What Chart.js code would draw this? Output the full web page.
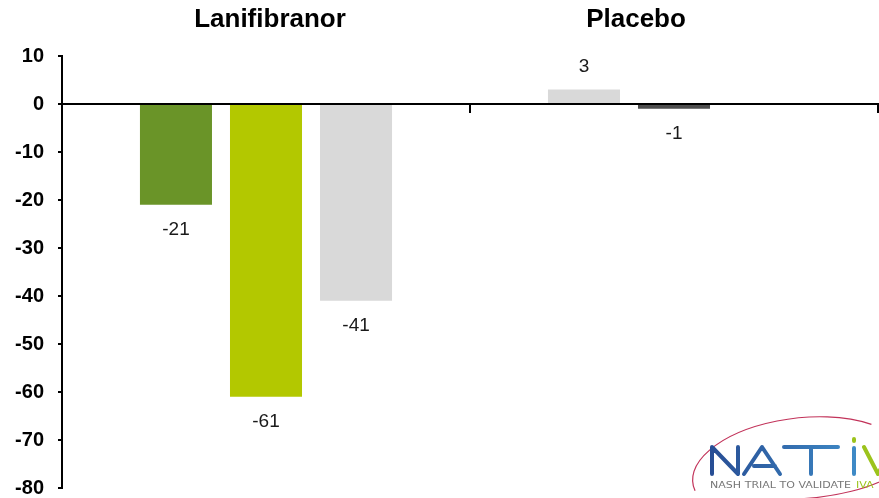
<!DOCTYPE html>
<html>
<head>
<meta charset="utf-8">
<script src="https://cdn.jsdelivr.net/npm/chart.js@4"></script>
<style>
  html, body { margin: 0; padding: 0; background: #fff; }
  #wrap { width: 879px; height: 498px; position: relative; }
</style>
</head>
<body>
<div id="wrap"><canvas id="resultsChart"></canvas></div>
<script>
const groups = ['Lanifibranor', 'Placebo'];
const slot1 = [-21, 3];
const slot2 = [-61, -1];
const slot3 = [-41, null];
const yTicks = [10, 0, -10, -20, -30, -40, -50, -60, -70, -80];

const slot1Colours = ['#6a9428', '#d9d9d9'];
const slot2Colours = ['#b3c800', '#4d4d4d'];
const slot3Colours = ['#d9d9d9', '#d9d9d9'];

// value labels under / over each bar
const valueLabels = {
  id: 'valueLabels',
  afterDatasetsDraw(chart) {
    const ctx = chart.ctx;
    ctx.save();
    ctx.font = '19px Arial, "Liberation Sans", sans-serif';
    ctx.fillStyle = '#1a1a1a';
    ctx.textAlign = 'center';
    ctx.textBaseline = 'middle';
    chart.data.datasets.forEach((ds, i) => {
      chart.getDatasetMeta(i).data.forEach((bar, j) => {
        const v = ds.data[j];
        if (v === null || v === undefined) return;
        const y = v < 0 ? bar.y + 25 : bar.y - 23;
        ctx.fillText(String(v), bar.x, y);
      });
    });
    ctx.restore();
  }
};

// group titles above the plot
const groupTitles = {
  id: 'groupTitles',
  afterDraw(chart) {
    const ctx = chart.ctx;
    const x = chart.scales.x;
    const shift = [4, -38];
    ctx.save();
    ctx.font = 'bold 26px Arial, "Liberation Sans", sans-serif';
    ctx.fillStyle = '#000';
    ctx.textAlign = 'center';
    ctx.textBaseline = 'alphabetic';
    groups.forEach((g, i) => {
      ctx.fillText(g, x.getPixelForValue(i) + shift[i], 27);
    });
    ctx.restore();
  }
};

// NATiV logo in the corner
const logo = {
  id: 'logo',
  afterDraw(chart) {
    const ctx = chart.ctx;
    ctx.save();
    ctx.strokeStyle = '#c2335a';
    ctx.lineWidth = 1.2;
    ctx.beginPath();
    ctx.ellipse(800, 470, 108, 52, -0.12, Math.PI * 0.95, Math.PI * 1.75);
    ctx.stroke();
    ctx.beginPath();
    ctx.ellipse(810, 462, 100, 36, -0.1, Math.PI * 0.2, Math.PI * 0.55);
    ctx.stroke();

    const grad = ctx.createLinearGradient(710, 0, 860, 0);
    grad.addColorStop(0, '#274d94');
    grad.addColorStop(1, '#3f8cc8');
    ctx.strokeStyle = grad;
    ctx.lineWidth = 4;
    ctx.lineJoin = 'round';
    ctx.lineCap = 'round';
    ctx.beginPath();
    // N
    ctx.moveTo(712, 474); ctx.lineTo(712, 447); ctx.lineTo(738, 474); ctx.lineTo(738, 447);
    // A
    ctx.moveTo(744, 474); ctx.lineTo(762, 447); ctx.lineTo(780, 474);
    ctx.moveTo(754, 466); ctx.lineTo(775, 466);
    // T
    ctx.moveTo(784, 447); ctx.lineTo(838, 447);
    ctx.moveTo(811, 447); ctx.lineTo(811, 474);
    // I
    ctx.moveTo(854, 448); ctx.lineTo(854, 474);
    ctx.stroke();
    ctx.strokeStyle = '#9cc31c';
    ctx.beginPath();
    ctx.moveTo(854, 439); ctx.lineTo(854, 441);
    // V
    ctx.moveTo(864, 447); ctx.lineTo(878, 474); ctx.lineTo(892, 447);
    ctx.stroke();

    ctx.font = '8px "DejaVu Sans", sans-serif';
    ctx.textBaseline = 'alphabetic';
    ctx.textAlign = 'left';
    const small = 'NASH TRIAL TO VALIDATE';
    const w = ctx.measureText(small).width;
    ctx.save();
    ctx.translate(710, 488);
    ctx.scale(141 / w, 1);
    ctx.fillStyle = '#777';
    ctx.fillText(small, 0, 0);
    ctx.restore();
    ctx.save();
    ctx.translate(856, 488);
    ctx.scale(141 / w, 1);
    ctx.fillStyle = '#9cc31c';
    ctx.fillText('IVA', 0, 0);
    ctx.restore();
    ctx.restore();
  }
};

new Chart('resultsChart', {
  type: 'bar',
  data: {
    labels: groups,
    datasets: [
      { data: slot1, backgroundColor: slot1Colours },
      { data: slot2, backgroundColor: slot2Colours },
      { data: slot3, backgroundColor: slot3Colours }
    ]
  },
  options: {
    responsive: true,
    maintainAspectRatio: false,
    animation: false,
    layout: { padding: { top: 56, bottom: 10, right: 1, left: 0 } },
    datasets: {
      bar: { categoryPercentage: 0.662, barPercentage: 0.8 }
    },
    plugins: {
      legend: { display: false },
      tooltip: { enabled: false }
    },
    scales: {
      x: {
        position: { y: 0 },
        afterFit(scale) { scale.height = 0; },
        grid: {
          drawOnChartArea: false,
          color: '#000',
          tickLength: 8,
          lineWidth: 2,
          offset: true
        },
        border: { color: '#000', width: 2 },
        ticks: { display: false }
      },
      y: {
        min: -80,
        max: 10,
        afterBuildTicks(scale) {
          scale.ticks = yTicks.map(v => ({ value: v }));
        },
        afterFit(scale) {
          scale.width = 62;
          scale.paddingTop = 0;
          scale.paddingBottom = 0;
        },
        grid: {
          drawOnChartArea: false,
          color: '#000',
          tickLength: 4,
          lineWidth: 2
        },
        border: { color: '#000', width: 2 },
        ticks: {
          color: '#000',
          padding: 14,
          font: { family: 'Arial, "Liberation Sans", sans-serif', size: 20, weight: 'bold' }
        }
      }
    }
  },
  plugins: [valueLabels, groupTitles, logo]
});
</script>
</body>
</html>
